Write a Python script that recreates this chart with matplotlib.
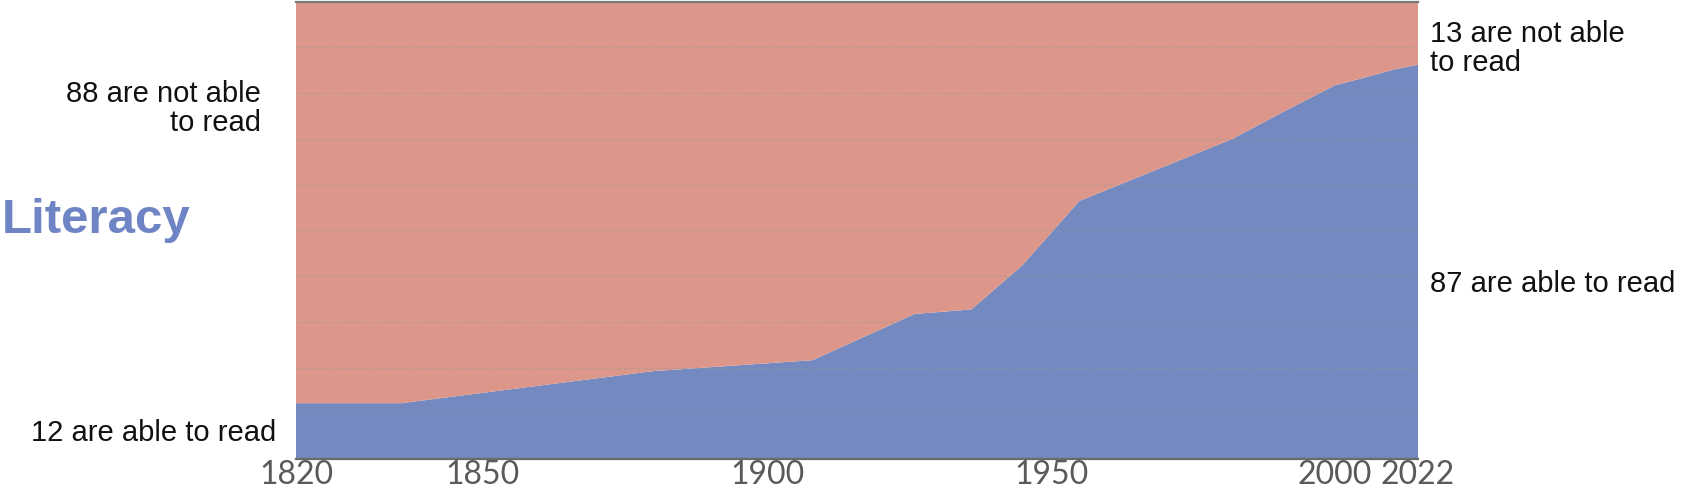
import numpy as np
import matplotlib
matplotlib.use('Agg')
import matplotlib.pyplot as plt

# world literacy, share of 100 people
years = [1820, 1837, 1880, 1908, 1926, 1936, 1945, 1955, 1982, 1990, 2000, 2008, 2016, 2022]
literate = [12.2, 12.2, 19.2, 21.6, 31.7, 32.7, 42.4, 56.4, 70.0, 75.3, 81.7, 83.4, 85.2, 86.2]
illiterate = [100 - v for v in literate]

tick_years = [1820, 1850, 1900, 1950, 2000, 2022]
# the year axis of the original is stretched unevenly between labels
tick_stretch = [0, 186, 471, 755, 1039, 1122]

BLUE = '#7389c0'
PINK = '#dc968a'


def fwd(x):
    return np.interp(x, tick_years, tick_stretch)


def inv(p):
    return np.interp(p, tick_stretch, tick_years)


fig = plt.figure(figsize=(16.94, 4.92), dpi=100)
ax = fig.add_axes([296 / 1694, 1 - 459 / 492, 1122 / 1694, 457.5 / 492])

ax.set_xscale('function', functions=(fwd, inv))
ax.stackplot(years, literate, illiterate, colors=[BLUE, PINK], linewidth=0)

ax.set_xlim(1820, 2022)
ax.set_ylim(0, 100)

# ── Grid ──────────────────────────────────────────────────────────────────────
ax.set_yticks(range(10, 100, 10))
ax.yaxis.grid(True, color='#999999', alpha=0.45, linewidth=0.8, linestyle=(0, (4, 2)))
ax.tick_params(axis='y', left=False, labelleft=False)

# ── X-axis ────────────────────────────────────────────────────────────────────
ax.set_xticks(tick_years)
ax.set_xticklabels([str(y) for y in tick_years])
ax.tick_params(axis='x', length=0, pad=0.5, labelsize=23, labelcolor='#5a5a5a')
for lab in ax.get_xticklabels():
    lab.set_family('Lato')

# ── Spines ────────────────────────────────────────────────────────────────────
ax.spines['left'].set_visible(False)
ax.spines['right'].set_visible(False)
ax.spines['bottom'].set_color('#6a6a6a')
ax.spines['bottom'].set_linewidth(1.6)
ax.spines['top'].set_color('#777777')
ax.spines['top'].set_linewidth(1.6)

# ── Labels ────────────────────────────────────────────────────────────────────
txt = dict(family='Liberation Sans', fontsize=21, color='#111111')
fig.text(261 / 1694, 1 - 131 / 492, "88 are not able\nto read", ha='right',
         va='baseline', linespacing=1.05, **txt)
fig.text(276 / 1694, 1 - 441 / 492, "12 are able to read", ha='right',
         va='baseline', **txt)
fig.text(1430 / 1694, 1 - 71 / 492, "13 are not able\nto read", ha='left',
         va='baseline', linespacing=1.05, **txt)
fig.text(1430 / 1694, 1 - 292 / 492, "87 are able to read", ha='left',
         va='baseline', **txt)
fig.text(1.5 / 1694, 1 - 233 / 492, "Literacy", ha='left', va='baseline',
         family='Liberation Sans', fontsize=35.5, fontweight='bold', color='#6f84c4')

fig.savefig('out.png', dpi=100, facecolor='white')
